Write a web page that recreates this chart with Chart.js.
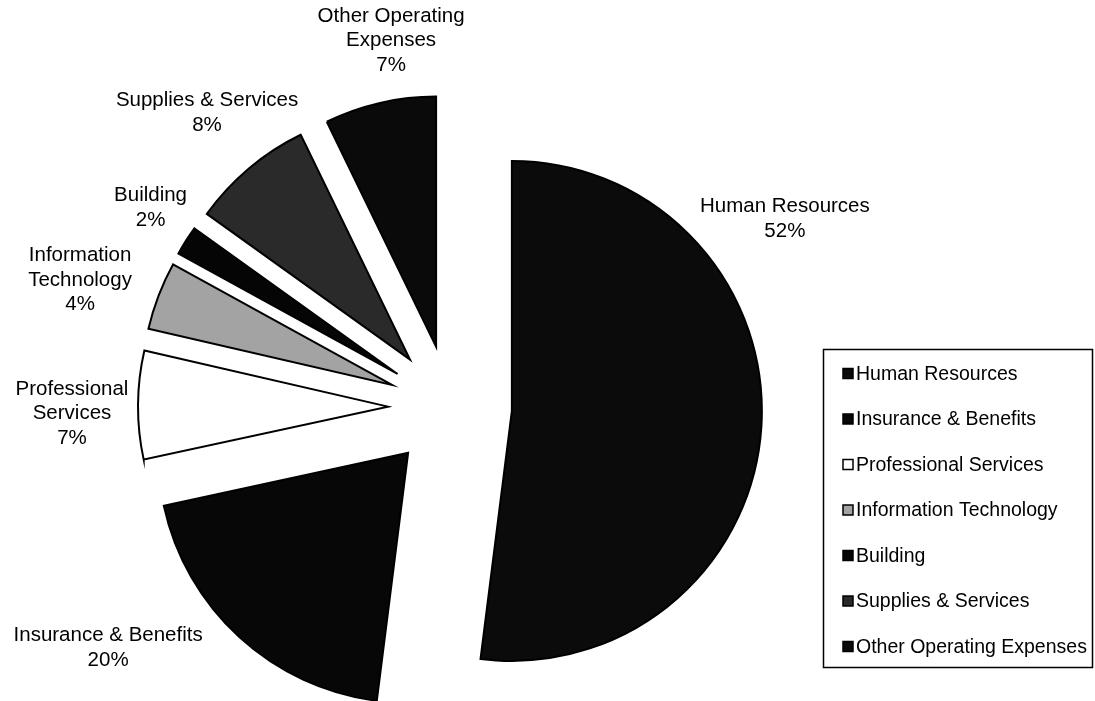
<!DOCTYPE html>
<html><head><meta charset="utf-8">
<script src="https://cdn.jsdelivr.net/npm/chart.js@4.4.0/dist/chart.umd.min.js"></script>
<style>html,body{margin:0;padding:0;background:#fff;} #wrap{position:relative;width:1095px;height:701px;}</style>
</head><body><div id="wrap"><canvas id="c" width="1095" height="701"></canvas></div>
<script>
// ---- data (shares in %; labels show rounded values) ----
const categories = ['Human Resources','Insurance & Benefits','Professional Services','Information Technology','Building','Supplies & Services','Other Operating Expenses'];
const shares = [52.0, 19.6, 7.0, 4.4, 1.9, 7.9, 7.2];
const labelLines = [['Human Resources'],['Insurance & Benefits'],['Professional','Services'],['Information','Technology'],['Building'],['Supplies & Services'],['Other Operating','Expenses']];

// ---- style / layout ----
const sliceColors = ['#0b0b0b','#070707','#ffffff','#a3a3a3','#050505','#2a2a2a','#0a0a0a'];
const labelOffsets = [[273,-192],[-300,195],[-316,7],[-312,-105],[-247,-166],[-203,-247],[-45,-306]];
const EXPLODE = 62;
const RADIUS = 250;
const FONT = '"Liberation Sans", Arial, sans-serif';

const explodePlugin = {
  id: 'explode',
  afterDatasetsUpdate(chart) {
    chart.getDatasetMeta(0).data.forEach(arc => {
      const mid = (arc.startAngle + arc.endAngle) / 2;
      arc.x += Math.cos(mid) * EXPLODE;
      arc.y += Math.sin(mid) * EXPLODE;
    });
  }
};

const labelPlugin = {
  id: 'sliceLabels',
  afterDatasetsDraw(chart) {
    const ctx = chart.ctx;
    ctx.save();
    ctx.fillStyle = '#000';
    ctx.font = '20.5px ' + FONT;
    ctx.textAlign = 'center';
    ctx.textBaseline = 'middle';
    const lh = 24.5;
    chart.getDatasetMeta(0).data.forEach((arc, i) => {
      const lines = labelLines[i].concat([Math.round(shares[i]) + '%']);
      const ax = arc.x + labelOffsets[i][0];
      const ay = arc.y + labelOffsets[i][1];
      const y0 = ay - (lines.length - 1) * lh / 2;
      lines.forEach((t, k) => ctx.fillText(t, ax, y0 + k * lh));
    });
    ctx.restore();
  }
};

const legendPlugin = {
  id: 'boxLegend',
  afterDraw(chart) {
    const ctx = chart.ctx;
    ctx.save();
    ctx.strokeStyle = '#000';
    ctx.lineWidth = 1.5;
    ctx.strokeRect(823.5, 349.5, 269, 318);
    ctx.font = '19.5px ' + FONT;
    ctx.textAlign = 'left';
    ctx.textBaseline = 'middle';
    categories.forEach((name, i) => {
      const cy = 373.5 + i * 45.5;
      ctx.fillStyle = sliceColors[i];
      ctx.fillRect(843, cy - 5, 10, 10);
      ctx.lineWidth = 1.5;
      ctx.strokeRect(843, cy - 5, 10, 10);
      ctx.fillStyle = '#000';
      ctx.fillText(name, 856, cy + 1);
    });
    ctx.restore();
  }
};

new Chart(document.getElementById('c'), {
  type: 'pie',
  data: {
    labels: categories,
    datasets: [{
      data: shares,
      backgroundColor: sliceColors,
      borderColor: '#000',
      borderWidth: 2,
      borderJoinStyle: 'miter'
    }]
  },
  options: {
    responsive: false,
    animation: false,
    events: [],
    radius: RADIUS,
    layout: { padding: { left: 0, right: 195, top: 113, bottom: 0 } },
    plugins: { legend: { display: false }, tooltip: { enabled: false } }
  },
  plugins: [explodePlugin, labelPlugin, legendPlugin]
});
</script>
</body></html>
